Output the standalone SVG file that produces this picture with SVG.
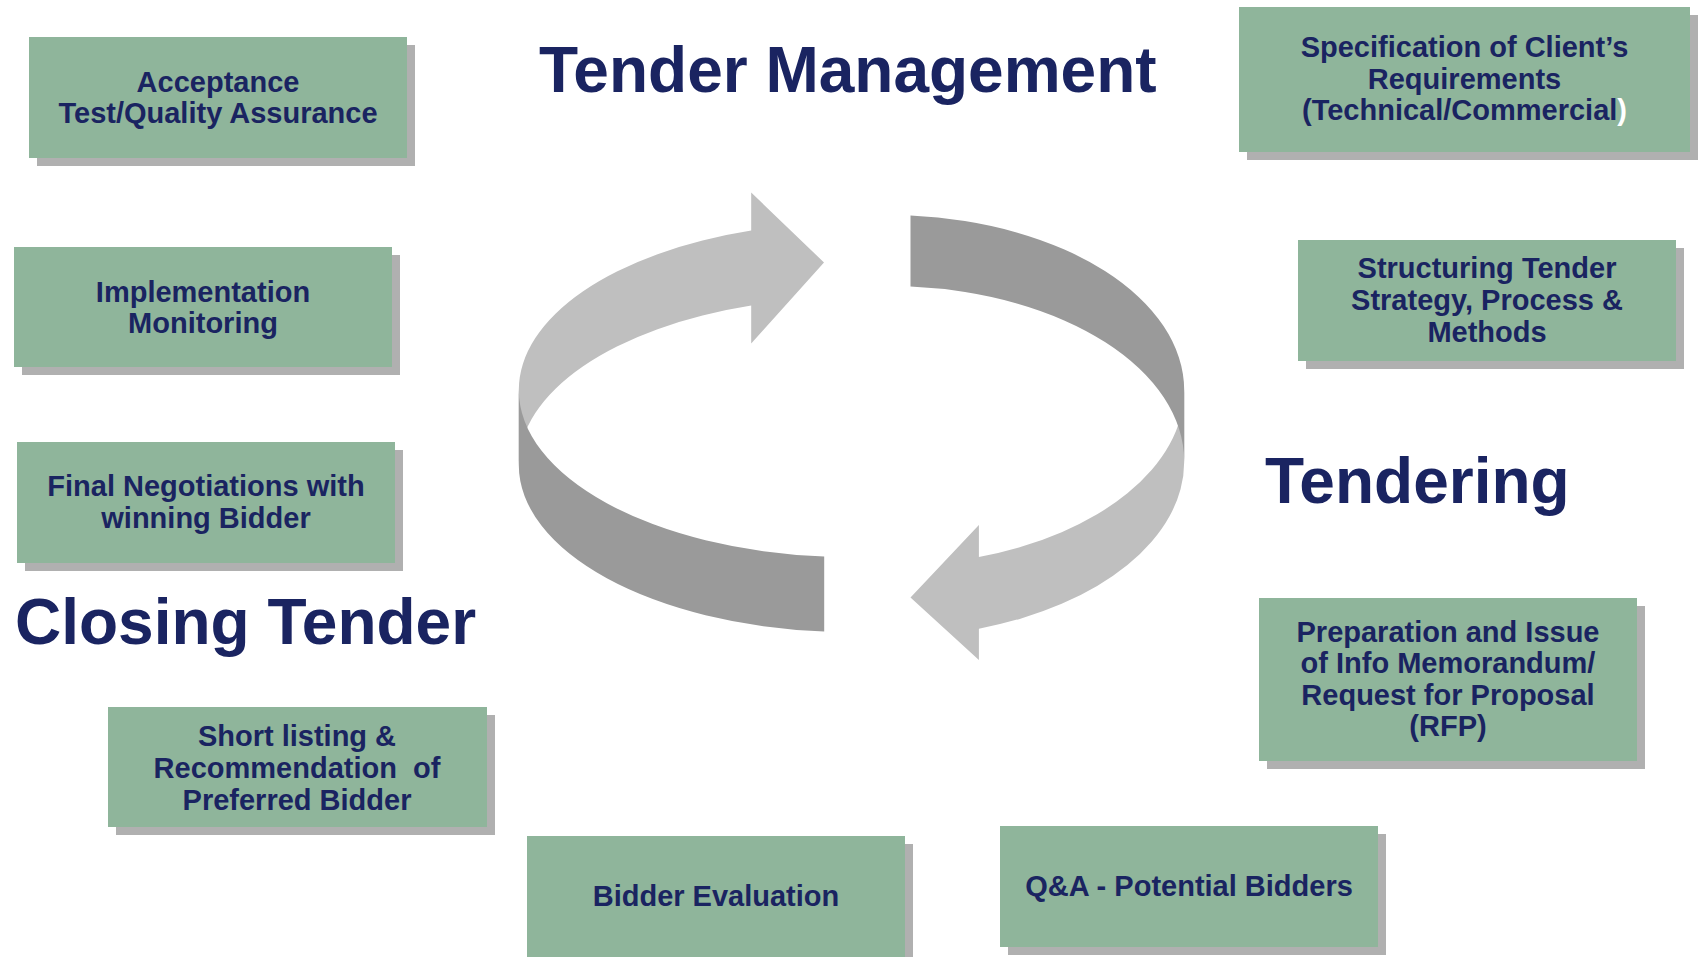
<svg xmlns="http://www.w3.org/2000/svg" width="1701" height="957" viewBox="0 0 1701 957">
<style>
.box{fill:#8fb59b}
.sh{fill:#b0b0b0}
.t{font-family:"Liberation Sans",Arial,sans-serif;font-weight:bold;font-size:29px;fill:#1a2461;text-anchor:middle}
.title{font-family:"Liberation Sans",Arial,sans-serif;font-weight:bold;font-size:64px;fill:#1a2461}
.light{fill:#bfbfbf}
.dark{fill:#9a9a9a}
</style>
<rect width="1701" height="957" fill="#ffffff"/>
<g id="cycle">
<path class="light" d="M751.2,230.6 A332.5,167.2 0 0 0 518.8,390 L518.8,465 A332.5,167.2 0 0 1 751.2,305.6 L751.2,343.5 L824,262.5 L751.2,192.5 Z"/>
<path class="dark" d="M518.8,390 A332.5,167.2 0 0 0 824.2,556.6 L824.2,631.6 A332.5,167.2 0 0 1 518.8,465 Z"/>
<path class="light" d="M978.9,557 A296.2,175.5 0 0 0 1184.2,390 L1184.2,461.7 A296.2,175.5 0 0 1 978.9,628.7 L978.9,660 L910.5,597.5 L978.9,525 Z"/>
<path class="dark" d="M910.5,215.5 A296.2,175.5 0 0 1 1184.2,390 L1184.2,461.7 A296.2,175.5 0 0 0 910.5,286.5 Z"/>
</g>
<g id="titles">
<text class="title" x="539" y="92">Tender Management</text>
<text class="title" x="1265" y="503">Tendering</text>
<text class="title" x="15" y="644">Closing Tender</text>
</g>
<g id="n-acceptance">
<rect class="sh" x="37" y="45" width="378" height="121"/>
<rect class="box" x="29" y="37" width="378" height="121"/>
<text class="t" x="218" y="92">Acceptance</text>
<text class="t" x="218" y="123">Test/Quality Assurance</text>
</g>
<g id="n-implementation">
<rect class="sh" x="22" y="255" width="378" height="120"/>
<rect class="box" x="14" y="247" width="378" height="120"/>
<text class="t" x="203" y="302">Implementation</text>
<text class="t" x="203" y="333">Monitoring</text>
</g>
<g id="n-final">
<rect class="sh" x="25" y="450" width="378" height="121"/>
<rect class="box" x="17" y="442" width="378" height="121"/>
<text class="t" x="206" y="496">Final Negotiations with</text>
<text class="t" x="206" y="528">winning Bidder</text>
</g>
<g id="n-shortlisting">
<rect class="sh" x="116" y="715" width="379" height="120"/>
<rect class="box" x="108" y="707" width="379" height="120"/>
<text class="t" x="297" y="746">Short listing &amp;</text>
<text class="t" x="297" y="778" xml:space="preserve" style="white-space:pre">Recommendation  of</text>
<text class="t" x="297" y="810">Preferred Bidder</text>
</g>
<g id="n-bidder-eval">
<rect class="sh" x="535" y="844" width="378" height="130"/>
<rect class="box" x="527" y="836" width="378" height="130"/>
<text class="t" x="716" y="906">Bidder Evaluation</text>
</g>
<g id="n-qa">
<rect class="sh" x="1008" y="834" width="378" height="121"/>
<rect class="box" x="1000" y="826" width="378" height="121"/>
<text class="t" x="1189" y="896">Q&amp;A - Potential Bidders</text>
</g>
<g id="n-preparation">
<rect class="sh" x="1267" y="606" width="378" height="163"/>
<rect class="box" x="1259" y="598" width="378" height="163"/>
<text class="t" x="1448" y="642">Preparation and Issue</text>
<text class="t" x="1448" y="673">of Info Memorandum/</text>
<text class="t" x="1448" y="705">Request for Proposal</text>
<text class="t" x="1448" y="736">(RFP)</text>
</g>
<g id="n-structuring">
<rect class="sh" x="1306" y="248" width="378" height="121"/>
<rect class="box" x="1298" y="240" width="378" height="121"/>
<text class="t" x="1487" y="278">Structuring Tender</text>
<text class="t" x="1487" y="310">Strategy, Process &amp;</text>
<text class="t" x="1487" y="342">Methods</text>
</g>
<g id="n-specification">
<rect class="sh" x="1247" y="15" width="451" height="145"/>
<rect class="box" x="1239" y="7" width="451" height="145"/>
<text class="t" x="1464.5" y="57">Specification of Client’s</text>
<text class="t" x="1464.5" y="89">Requirements</text>
<text class="t" x="1464.5" y="120">(Technical/Commercial<tspan fill="#ffffff">)</tspan></text>
</g>
<g id="connectors"></g>
</svg>
